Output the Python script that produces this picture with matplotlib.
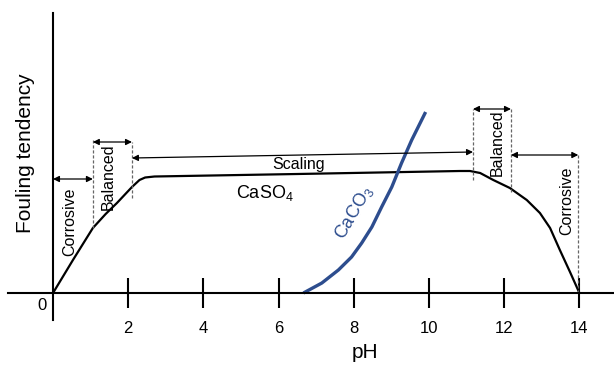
import matplotlib
matplotlib.use("Agg")
from matplotlib import pyplot as plt

plt.rcParams['font.family'] = ['Liberation Sans', 'DejaVu Sans']
plt.rcParams['mathtext.fontset'] = 'custom'
plt.rcParams['mathtext.rm'] = 'Liberation Sans'
plt.rcParams['mathtext.it'] = 'Liberation Sans:italic'

# CaSO4 fouling curve (pH, tendency)
caso4_ph = [0, 0.53, 1.06, 1.40, 1.70, 2.10, 2.30, 2.45, 2.7, 6.5, 10.82, 11.09,
            11.36, 11.71, 12.15, 12.60, 12.95, 13.22, 13.48, 13.75, 14.0]
caso4_y = [0, 33, 65, 79, 90, 106, 113, 115.5, 116.5, 119, 122, 122,
           120, 113, 105, 93, 80, 65, 43, 21, 0]

# CaCO3 fouling curve
caco3_ph = [6.66, 7.15, 7.59, 7.94, 8.21, 8.48, 8.74, 9.01, 9.27, 9.54, 9.91]
caco3_y = [0, 10, 23, 36, 50, 66, 86, 106, 130, 153, 181]

x_ticks = [2, 4, 6, 8, 10, 12, 14]

# zone arrows: (label, x_start, x_end, y_start, y_end)
zones = [
    ("Corrosive", 0.0, 1.06, 114, 114),
    ("Balanced", 1.06, 2.10, 151, 151),
    ("Scaling", 2.10, 11.17, 135, 141),
    ("Balanced", 11.17, 12.18, 184, 184),
    ("Corrosive", 12.18, 13.97, 138, 138),
]
# dashed boundary lines: (x, y_bottom, y_top)
bounds = [(1.06, 65, 153), (2.10, 95, 151), (11.17, 113, 184),
          (12.18, 101, 184), (13.97, 0, 138)]

fig = plt.figure(figsize=(6.14, 3.67), dpi=100)
ax = fig.add_axes([0, 0, 1, 1])
ax.set_xlim(-1.41, 14.92)
ax.set_ylim(-74, 293)

for s in ["top", "right"]:
    ax.spines[s].set_visible(False)
ax.spines["bottom"].set_position(("data", 0))
ax.spines["bottom"].set_bounds(-1.2, 14.92)
ax.spines["left"].set_position(("data", 0))
ax.spines["left"].set_bounds(-27, 280)
for s in ["bottom", "left"]:
    ax.spines[s].set_linewidth(1.5)

ax.set_yticks([])
ax.set_xticks(x_ticks)
ax.tick_params(axis="x", direction="inout", length=21, width=1.5,
               labelsize=12, pad=10)

ax.plot(caso4_ph, caso4_y, color="black", lw=1.6)
ax.plot(caco3_ph, caco3_y, color="#2d4d8e", lw=2.4, solid_capstyle="butt")

for label, x0, x1, y0, y1 in zones:
    ax.annotate("", xy=(x1, y1), xytext=(x0, y0),
                arrowprops=dict(arrowstyle="<|-|>", color="black", lw=0.9,
                                mutation_scale=9, shrinkA=0, shrinkB=0))

for x, yb, yt in bounds:
    ax.plot([x, x], [yb, yt], color="#666666", lw=0.9, ls=(0, (2.5, 1.5)))

ax.text(0.45, 71, "Corrosive", rotation=90, ha="center", va="center", fontsize=11.5)
ax.text(1.46, 116, "Balanced", rotation=90, ha="center", va="center", fontsize=11.5)
ax.text(6.54, 129, "Scaling", ha="center", va="center", fontsize=11.5)
ax.text(11.81, 150, "Balanced", rotation=90, ha="center", va="center", fontsize=11.5)
ax.text(13.67, 92, "Corrosive", rotation=90, ha="center", va="center", fontsize=11.5)
ax.text(5.64, 100, r"CaSO$_4$", ha="center", va="center", fontsize=13)
ax.text(8.0, 80, r"CaCO$_3$", rotation=60, ha="center", va="center",
        fontsize=13, color="#2d4d8e")

ax.text(-0.29, -12, "0", ha="center", va="center", fontsize=12)
ax.text(8.30, -60, "pH", ha="center", va="center", fontsize=15)
ax.text(-0.74, 140, "Fouling tendency", rotation=90, ha="center", va="center", fontsize=15)

fig.savefig("out.png", dpi=100)
